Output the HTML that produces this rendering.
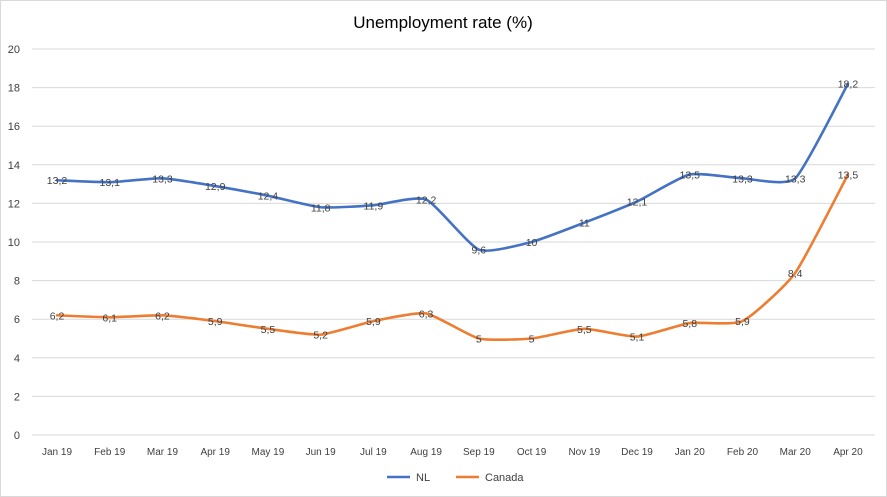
<!DOCTYPE html>
<html><head><meta charset="utf-8"><style>
body{margin:0;background:#fff;}
svg{display:block;font-family:"Liberation Sans",Arial,sans-serif;}
</style></head><body>
<svg id="s" width="887" height="497" xmlns="http://www.w3.org/2000/svg">
<rect x="0.5" y="0.5" width="886" height="496" fill="#fff" stroke="#d9d9d9"/>
<text x="443" y="28" text-anchor="middle" font-size="17" fill="#000">Unemployment rate (%)</text>
<g id="g"></g>
<line x1="387" y1="477" x2="410" y2="477" stroke="#4472C4" stroke-width="2.5"/>
<text x="416" y="481" font-size="11" fill="#404040">NL</text>
<line x1="456" y1="477" x2="479" y2="477" stroke="#ED7D31" stroke-width="2.5"/>
<text x="485" y="481" font-size="11" fill="#404040">Canada</text>
</svg>
<script>
var g=document.getElementById('g'),h='';
var X0=57,DX=52.73,Y0=435,SY=19.3;
for(var v=0;v<=20;v+=2){var y=Y0-v*SY;
h+='<line x1="32" x2="875" y1="'+y+'" y2="'+y+'" stroke="#d9d9d9" stroke-width="1"/>';
h+='<text x="20" y="'+(y+4)+'" text-anchor="end" font-size="11" fill="#404040">'+v+'</text>';}
var L=['Jan 19','Feb 19','Mar 19','Apr 19','May 19','Jun 19','Jul 19','Aug 19','Sep 19','Oct 19','Nov 19','Dec 19','Jan 20','Feb 20','Mar 20','Apr 20'];
L.forEach(function(l,i){h+='<text x="'+(X0+i*DX)+'" y="455" text-anchor="middle" font-size="10" fill="#404040">'+l+'</text>';});
function path(d,c){var p=d.map(function(v,i){return[X0+i*DX,Y0-v*SY]});
var s='M'+p[0][0]+','+p[0][1],t=0.09;
for(var i=0;i<p.length-1;i++){var a=p[i-1]||p[i],b=p[i],e=p[i+1],f=p[i+2]||e;
s+=' C'+(b[0]+(e[0]-a[0])*t)+','+(b[1]+(e[1]-a[1])*t)+' '+(e[0]-(f[0]-b[0])*t)+','+(e[1]-(f[1]-b[1])*t)+' '+e[0]+','+e[1];}
var r='<path d="'+s+'" fill="none" stroke="'+c+'" stroke-width="2.6" stroke-linecap="round"/>';
p.forEach(function(q,i){r+='<text x="'+q[0]+'" y="'+(q[1]+4)+'" text-anchor="middle" font-size="10.5" fill="#404040">'+String(d[i]).replace('.',',')+'</text>';});
return r;}
h+=path([13.2,13.1,13.3,12.9,12.4,11.8,11.9,12.2,9.6,10,11,12.1,13.5,13.3,13.3,18.2],'#4472C4');
h+=path([6.2,6.1,6.2,5.9,5.5,5.2,5.9,6.3,5,5,5.5,5.1,5.8,5.9,8.4,13.5],'#ED7D31');
g.innerHTML=h;
</script>
</body></html>
